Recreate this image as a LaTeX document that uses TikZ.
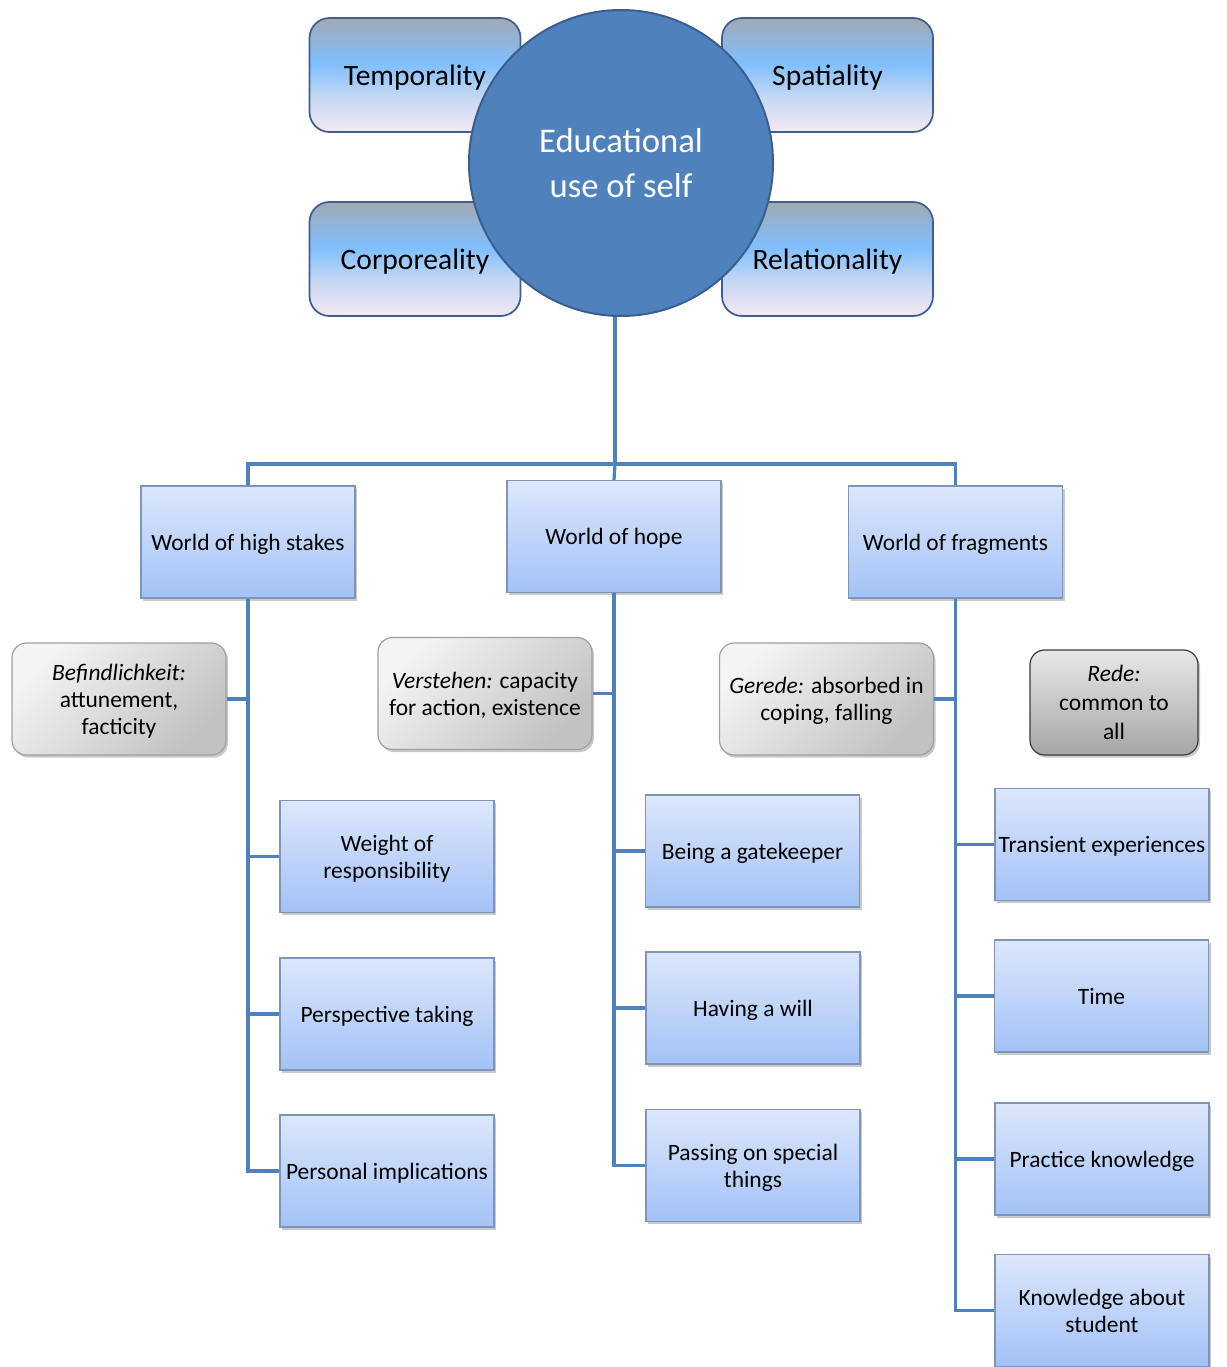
\documentclass[tikz,border=0pt]{standalone}
\usepackage{fontspec}
\setmainfont{Carlito}
\usetikzlibrary{shapes.geometric,shadows}
\definecolor{linec}{HTML}{4F81BD}
\definecolor{circfill}{HTML}{4F81BD}
\definecolor{circdraw}{HTML}{3A5F8F}
\definecolor{bluetop}{HTML}{DCE7FB}
\definecolor{bluebot}{HTML}{A3C2F7}
\definecolor{bluedraw}{HTML}{8094B8}
\definecolor{greytop}{HTML}{F4F4F4}
\definecolor{greybot}{HTML}{C2C2C2}
\definecolor{greydraw}{HTML}{A0A0A0}
\definecolor{redetop}{HTML}{E8E8E8}
\definecolor{redebot}{HTML}{A6A6A6}
\definecolor{rededraw}{HTML}{3C3C3C}
\definecolor{qtop}{HTML}{A2A9B5}
\definecolor{qmid}{HTML}{80BFFF}
\definecolor{qlow}{HTML}{C6D8F2}
\definecolor{qbot}{HTML}{F4E8F4}
\definecolor{qdraw}{HTML}{3F5F90}
\pgfdeclareverticalshading{quadshade}{100bp}{color(0bp)=(qbot); color(25bp)=(qbot); color(40bp)=(qlow); color(55bp)=(qmid); color(75bp)=(qtop); color(100bp)=(qtop)}
\newcommand\boxfont{\fontsize{17.6pt}{20.3pt}\selectfont}
\newcommand\redefont{\fontsize{17.6pt}{21.8pt}\selectfont}
\newcommand\quadfont{\fontsize{22.2pt}{26pt}\selectfont}
\newcommand\circfont{\fontsize{26pt}{34pt}\selectfont}
\tikzset{
  conn/.style={draw=linec, line width=2.4pt},
  shad/.style={drop shadow={opacity=0.3, shadow xshift=1.5pt, shadow yshift=-2pt, fill=black!70}},
  bluebox/.style={draw=bluedraw, line width=0.9pt, top color=bluetop, bottom color=bluebot,
    minimum width=160.5pt, minimum height=84pt, inner xsep=0pt, text depth=0pt, align=center, font=\boxfont, shad},
  greybox/.style={draw=greydraw, line width=0.9pt, top color=greytop, bottom color=greybot, shading angle=45,
    rounded corners=11pt, minimum width=160.5pt, minimum height=84pt, inner xsep=0pt, text depth=0pt, align=center, font=\boxfont, shad},
  redebox/.style={draw=rededraw, line width=0.9pt, top color=redetop, bottom color=redebot,
    rounded corners=11pt, minimum width=126pt, minimum height=78.75pt, inner xsep=0pt, text depth=0pt, align=center, font=\redefont, shad},
  quadbox/.style={draw=qdraw, line width=1.3pt, shading=quadshade, rounded corners=15pt,
    minimum width=158.25pt, minimum height=85.5pt, text depth=0pt, align=center, font=\quadfont},
  circbox/.style={ellipse, draw=circdraw, line width=1.5pt, fill=circfill, text=white,
    minimum width=228pt, minimum height=229.5pt, inner sep=0pt, align=center, font=\circfont}
}
\begin{document}
\begin{tikzpicture}[x=0.75pt, y=-0.75pt]
\useasboundingbox (0,0) rectangle (1227,1367);
% quadrants and centre
\node[quadbox] (tmp) at (415,75) {Temporality};
\node[quadbox] (spa) at (827.5,75) {Spatiality};
\node[quadbox] (cor) at (415,259) {Corporeality};
\node[quadbox] (rel) at (827.5,259) {Relationality};
\node[circbox] (c) at (621,163) {Educational\\use of self};
% worlds
\coordinate (j) at (615,464);
\node[bluebox] (hs) at (248,542) {World of high stakes};
\node[bluebox] (ho) at (614,536.5) {World of hope};
\node[bluebox] (fr) at (955.5,542) {World of fragments};
% grey boxes
\node[greybox] (bf) at (119,699) {\textit{Befindlichkeit:}\\attunement,\\facticity};
\node[greybox] (vs) at (485,693.5) {\textit{Verstehen:} capacity\\for action, existence};
\node[greybox] (ge) at (826.5,699) {\textit{Gerede:} absorbed in\\coping, falling};
\node[redebox] (re) at (1114,702.5) {\textit{Rede:}\\common to\\all};
% leaves
\node[bluebox] (wr) at (387,856.5) {Weight of\\responsibility};
\node[bluebox] (pt) at (387,1014) {Perspective taking};
\node[bluebox] (pi) at (387,1171) {Personal implications};
\node[bluebox] (gk) at (752.5,851) {Being a gatekeeper};
\node[bluebox] (hw) at (753,1008) {Having a will};
\node[bluebox] (ps) at (753,1165.5) {Passing on special\\things};
\node[bluebox] (te) at (1102,844.5) {Transient experiences};
\node[bluebox] (ti) at (1101.5,996) {Time};
\node[bluebox] (pk) at (1102,1159) {Practice knowledge};
\node[bluebox] (ks) at (1102,1310.5) {Knowledge about\\student};
% connectors
\draw[conn] (c.south -| j) -- (j);
\draw[conn] (hs.north) |- (j) -| (fr.north);
\draw[conn] (j) -- (ho.north);
\draw[conn] (hs.south) |- (pi.west);
\draw[conn] (hs.south |- bf.east) -- (bf.east);
\draw[conn] (hs.south |- wr.west) -- (wr.west);
\draw[conn] (hs.south |- pt.west) -- (pt.west);
\draw[conn] (ho.south) |- (ps.west);
\draw[conn] (ho.south |- vs.east) -- (vs.east);
\draw[conn] (ho.south |- gk.west) -- (gk.west);
\draw[conn] (ho.south |- hw.west) -- (hw.west);
\draw[conn] (fr.south) |- (ks.west);
\draw[conn] (fr.south |- ge.east) -- (ge.east);
\draw[conn] (fr.south |- te.west) -- (te.west);
\draw[conn] (fr.south |- ti.west) -- (ti.west);
\draw[conn] (fr.south |- pk.west) -- (pk.west);
\end{tikzpicture}
\end{document}
